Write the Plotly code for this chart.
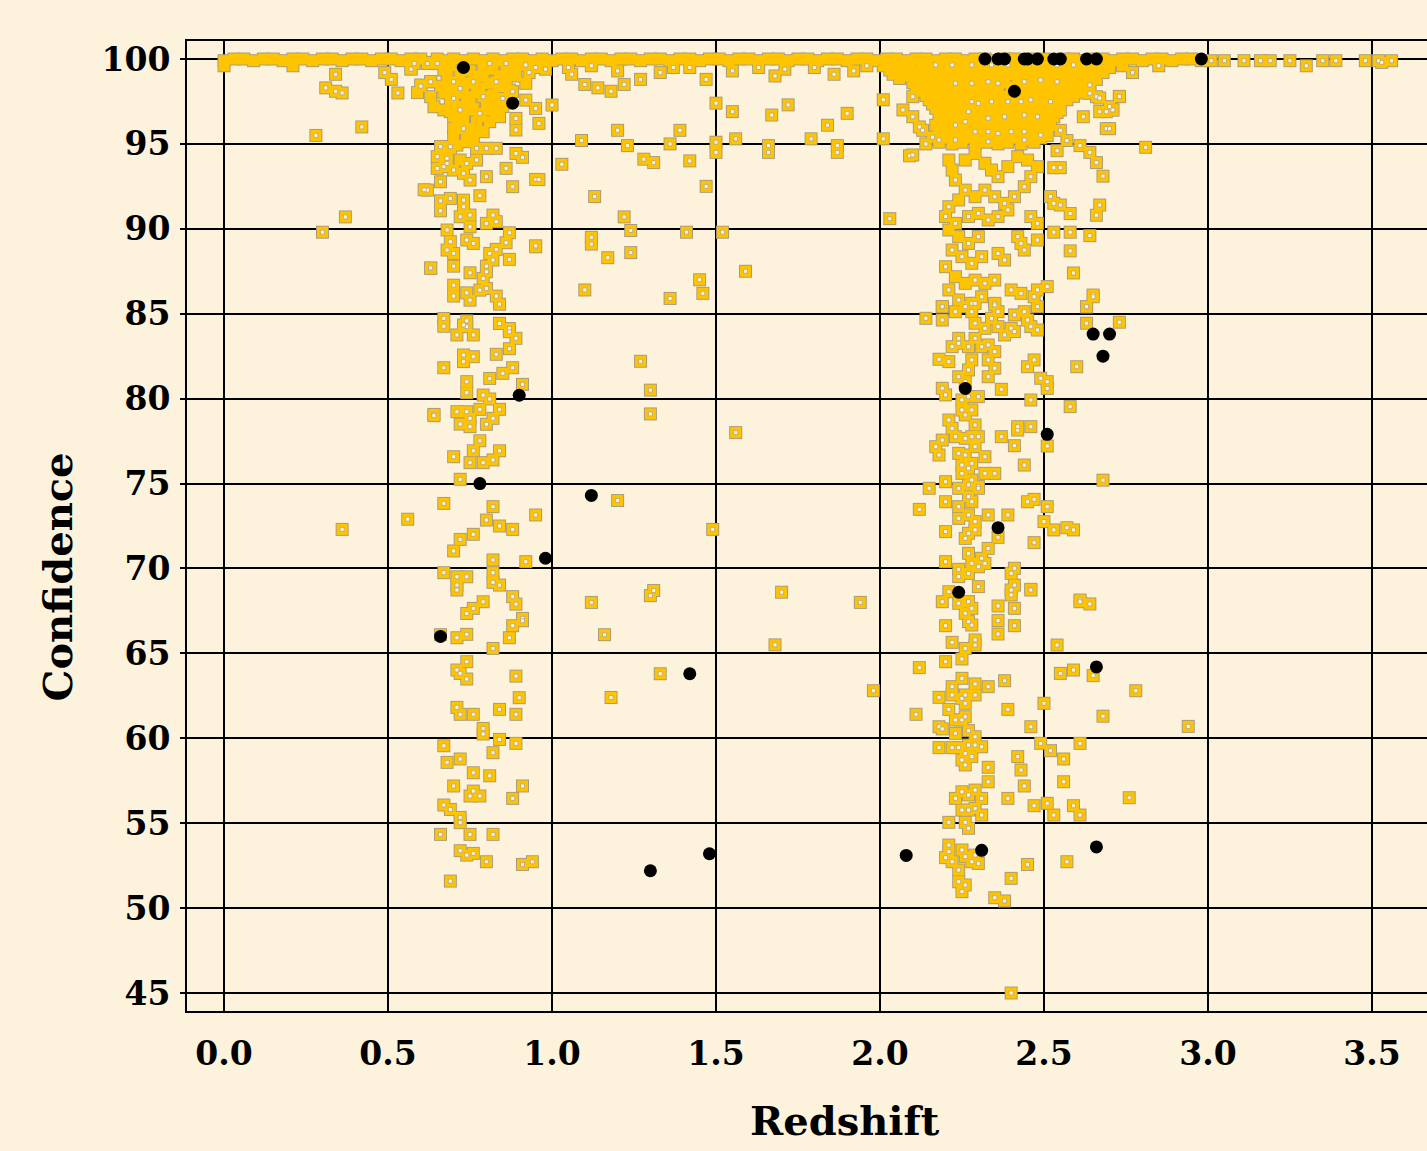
import plotly.graph_objects as go

# ---------------- data (redshift, confidence) ----------------
top_band = [
    (0.00, 99.9), (0.00, 99.6), (0.03, 100.0), (0.06, 100.0), (0.09, 99.9), (0.12, 100.0), (0.15, 100.0),
    (0.18, 99.9), (0.21, 100.0), (0.21, 99.6), (0.24, 100.0), (0.27, 99.9), (0.30, 100.0), (0.33, 100.0),
    (0.36, 99.9), (0.39, 100.0), (0.42, 100.0), (0.45, 99.9), (0.48, 100.0), (0.51, 100.0), (0.54, 99.9),
    (0.57, 100.0), (0.60, 100.0), (0.62, 99.8), (0.65, 100.0), (0.68, 99.9), (0.70, 100.0), (0.73, 99.9),
    (0.76, 100.0), (0.79, 99.9), (0.82, 100.0), (0.85, 99.9), (0.88, 100.0), (0.91, 100.0), (0.94, 99.9),
    (0.97, 100.0), (1.00, 99.9), (1.03, 100.0), (1.06, 100.0), (1.09, 99.9), (1.12, 100.0), (1.15, 100.0),
    (1.18, 99.9), (1.21, 100.0), (1.24, 100.0), (1.27, 99.9), (1.30, 100.0), (1.33, 100.0), (1.36, 99.9),
    (1.39, 100.0), (1.42, 100.0), (1.45, 99.9), (1.48, 100.0), (1.51, 100.0), (1.54, 99.9), (1.57, 100.0),
    (1.60, 100.0), (1.63, 99.9), (1.66, 100.0), (1.69, 100.0), (1.72, 99.9), (1.75, 100.0), (1.78, 100.0),
    (1.81, 99.9), (1.84, 100.0), (1.87, 100.0), (1.90, 99.9), (1.93, 100.0), (1.96, 100.0), (1.99, 99.9),
    (2.02, 100.0), (2.05, 100.0), (2.08, 99.9), (2.11, 100.0), (2.14, 100.0), (2.17, 99.9), (2.20, 100.0),
    (2.23, 100.0), (2.26, 99.9), (2.29, 100.0), (2.32, 100.0), (2.35, 99.9), (2.38, 100.0), (2.41, 100.0),
    (2.44, 99.9), (2.47, 100.0), (2.50, 100.0), (2.53, 99.9), (2.56, 100.0), (2.59, 100.0), (2.62, 99.9),
    (2.65, 100.0), (2.68, 100.0), (2.71, 99.9), (2.74, 100.0), (2.77, 100.0), (2.80, 99.9), (2.83, 100.0),
    (2.86, 100.0), (2.89, 99.9), (2.92, 100.0), (2.95, 100.0), (2.98, 99.9),
]

far_band = [
    (3.01, 99.9), (3.05, 99.9), (3.11, 99.9), (3.16, 99.9), (3.19, 99.9), (3.25, 99.9), (3.30, 99.6),
    (3.35, 99.9), (3.39, 99.9), (3.48, 99.9), (3.52, 99.9), (3.53, 99.8), (3.56, 99.9),
]

top_drips = [
    (0.34, 99.1), (0.31, 98.3), (0.34, 98.1), (0.36, 98.0), (0.42, 96.0), (0.28, 95.5), (0.49, 99.2),
    (0.51, 98.8), (0.53, 98.0), (0.57, 99.4), (0.60, 98.4), (0.30, 89.8), (0.37, 90.7), (0.36, 72.3),
    (0.56, 72.9), (1.06, 99.1), (1.10, 98.5), (1.14, 98.3), (1.18, 98.1), (1.22, 98.5), (1.27, 98.8),
    (1.05, 99.5), (1.12, 99.6), (1.20, 99.3), (1.33, 99.2), (1.37, 99.5), (1.42, 99.5), (1.47, 98.8),
    (1.55, 99.3), (1.63, 99.5), (1.68, 99.0), (1.71, 99.4), (1.80, 99.5), (1.86, 99.1), (1.92, 99.3),
    (1.96, 99.6),
]

left_blob = [
    (0.57, 99.45), (0.60, 98.47), (0.59, 98.02), (0.63, 98.66), (0.63, 97.78), (0.64, 97.19),
    (0.67, 99.35), (0.69, 98.57), (0.70, 97.98), (0.74, 97.78), (0.76, 98.57), (0.79, 98.96),
    (0.81, 98.57), (0.84, 98.37), (0.87, 98.17), (0.72, 97.19), (0.75, 96.99), (0.78, 96.60),
    (0.70, 96.60), (0.73, 96.40), (0.81, 96.31), (0.79, 95.72), (0.70, 95.91), (0.84, 96.60),
    (0.86, 99.35), (0.91, 99.65), (0.92, 98.57), (0.68, 99.0), (0.70, 98.2), (0.73, 98.6),
    (0.75, 97.4), (0.77, 98.0), (0.80, 97.5), (0.82, 97.9), (0.85, 97.2), (0.72, 96.0), (0.76, 95.9),
    (0.80, 97.0), (0.83, 96.9), (0.69, 97.5), (0.71, 96.5), (0.66, 98.4), (0.79, 99.5), (0.75, 99.3),
    (0.69, 99.6), (0.86, 98.8), (0.82, 99.4), (0.89, 99.0), (0.67, 97.0),
    (0.66, 94.83), (0.69, 94.74), (0.71, 94.93), (0.74, 95.13), (0.68, 94.35), (0.72, 94.05),
    (0.77, 99.0), (0.72, 99.1), (0.84, 99.0), (0.88, 99.5), (0.78, 98.3), (0.73, 98.0), (0.67, 98.0),
    (0.83, 97.5), (0.76, 97.1), (0.69, 96.9), (0.77, 96.3), (0.74, 95.7), (0.70, 95.4), (0.76, 95.3),
]

left_blob_holed = [
    (0.58, 99.74), (0.62, 99.74), (0.65, 99.74), (0.81, 99.74), (0.86, 99.74), (0.92, 99.65),
    (0.63, 98.66), (0.70, 98.66), (0.76, 98.66), (0.83, 98.66), (0.88, 98.08), (0.72, 98.27),
    (0.70, 97.68), (0.79, 97.78), (0.85, 97.68), (0.72, 97.00), (0.78, 96.80), (0.73, 95.90),
    (0.66, 94.84), (0.69, 94.84), (0.68, 94.15),
]

left_column = [
    (0.92, 97.58), (0.89, 96.50), (0.89, 95.82), (0.95, 97.09), (0.96, 96.21), (1.00, 97.29),
    (0.93, 99.2), (0.95, 99.5), (0.98, 99.4),
    (0.77, 94.74), (0.80, 94.74), (0.83, 94.74), (0.65, 94.25), (0.74, 93.85), (0.67, 93.66),
    (0.70, 93.46), (0.73, 93.27), (0.75, 92.87), (0.66, 92.77), (0.65, 93.56), (0.68, 93.85),
    (0.77, 94.05), (0.86, 93.56), (0.89, 94.44), (0.91, 94.21), (0.80, 93.07), (0.88, 92.48),
    (0.95, 92.91), (0.62, 92.28), (0.66, 91.65), (0.66, 91.06), (0.69, 91.79), (0.73, 91.69),
    (0.73, 91.30), (0.72, 90.71), (0.75, 90.81), (0.78, 91.95), (0.80, 90.32), (0.82, 90.81),
    (0.83, 90.42), (0.68, 89.93), (0.75, 90.12), (0.87, 89.77), (0.69, 89.24), (0.74, 89.34),
    (0.76, 89.14), (0.68, 88.75), (0.70, 88.55), (0.83, 88.79), (0.86, 89.18), (0.81, 88.55),
    (0.82, 88.16), (0.87, 88.20), (0.63, 87.67), (0.70, 87.80), (0.80, 87.80), (0.75, 87.41),
    (0.80, 87.47), (0.79, 87.08), (0.70, 86.68), (0.70, 86.04), (0.74, 86.23), (0.75, 85.80),
    (0.78, 86.39), (0.80, 86.49), (0.83, 86.04), (0.84, 85.56), (0.95, 88.94), (0.67, 84.72),
    (0.67, 84.26), (0.74, 84.58), (0.74, 84.24), (0.84, 84.43), (0.87, 84.13),
    (0.73, 84.34), (0.84, 84.43), (0.71, 83.75), (0.76, 83.75), (0.87, 83.94), (0.89, 83.55),
    (0.73, 82.57), (0.73, 82.18), (0.76, 82.47), (0.83, 82.61), (0.87, 82.94), (0.67, 81.82),
    (0.88, 81.82), (0.81, 81.19), (0.85, 81.49), (0.91, 80.84), (0.74, 81.00), (0.74, 80.35),
    (0.79, 80.21), (0.81, 79.98), (0.64, 79.07), (0.71, 79.23), (0.74, 79.23), (0.75, 78.84),
    (0.72, 78.50), (0.75, 78.35), (0.78, 79.37), (0.84, 79.37), (0.82, 78.84), (0.80, 78.49),
    (0.78, 77.52), (0.76, 76.93), (0.84, 76.93), (0.70, 76.58), (0.75, 76.23), (0.79, 76.23),
    (0.82, 76.39), (0.72, 75.25), (0.67, 73.83), (0.82, 73.64), (0.80, 72.85), (0.84, 72.50),
    (0.88, 72.30), (0.95, 73.15), (0.72, 71.71), (0.76, 72.01), (0.70, 71.03), (0.82, 70.50),
    (0.92, 70.40), (0.67, 69.75), (0.71, 69.51), (0.71, 69.02), (0.71, 68.73), (0.74, 69.51),
    (0.82, 69.75), (0.82, 69.18), (0.84, 69.02), (0.79, 68.04), (0.88, 68.34), (0.89, 67.90),
    (0.74, 67.35), (0.76, 67.65), (0.91, 67.06), (0.91, 66.92), (0.88, 66.63), (0.87, 65.92),
    (0.66, 66.10), (0.71, 65.92), (0.74, 66.12), (0.82, 65.29), (0.74, 64.51), (0.71, 64.02),
    (0.72, 63.82), (0.74, 63.49), (0.89, 63.66), (0.90, 62.39), (0.71, 61.82), (0.72, 61.41),
    (0.76, 61.41), (0.84, 61.70), (0.89, 61.41), (0.79, 60.58), (0.79, 60.25), (0.84, 59.93),
    (0.89, 59.70), (0.67, 59.56), (0.82, 59.15), (0.72, 58.78), (0.68, 58.58), (0.76, 57.97),
    (0.81, 57.79), (0.70, 57.19), (0.91, 57.19), (0.76, 56.89), (0.75, 56.60), (0.78, 56.60),
    (0.88, 56.46), (0.67, 56.07), (0.69, 55.81), (0.72, 55.34), (0.72, 55.03), (0.66, 54.34),
    (0.75, 54.34), (0.82, 54.34), (0.72, 53.38), (0.74, 53.12), (0.76, 53.22), (0.80, 52.73),
    (0.91, 52.57), (0.94, 52.73), (0.69, 51.59), (0.96, 92.9), (0.95, 89.0), (0.61, 92.3),
    (0.63, 87.7), (0.64, 79.0),
]

middle_scatter = [
    (1.03, 93.8), (1.09, 95.2), (1.13, 91.9), (1.12, 89.5), (1.12, 89.1), (1.10, 86.4), (1.17, 88.3),
    (1.22, 90.7), (1.24, 89.9), (1.24, 88.6), (1.20, 95.8), (1.23, 94.9), (1.28, 94.1), (1.31, 93.9),
    (1.36, 95.0), (1.39, 95.8), (1.42, 94.0), (1.47, 92.5), (1.41, 89.8), (1.45, 87.0), (1.46, 86.2),
    (1.36, 85.9), (1.50, 97.4), (1.52, 89.8), (1.50, 94.5), (1.50, 95.1), (1.56, 95.3), (1.59, 87.5),
    (1.55, 96.9), (1.67, 96.7), (1.72, 97.3), (1.66, 94.9), (1.66, 94.5), (1.79, 95.3), (1.84, 96.1),
    (1.87, 94.9), (1.87, 94.5), (1.90, 96.8), (2.01, 97.6), (2.01, 95.3), (2.03, 90.6), (2.09, 94.3),
    (1.27, 82.2), (1.30, 80.5), (1.30, 79.1), (1.56, 78.0), (1.20, 74.0), (1.49, 72.3), (1.30, 68.4),
    (1.31, 68.7), (1.12, 68.0), (1.16, 66.1), (1.70, 68.6), (1.68, 65.5), (1.94, 68.0), (1.33, 63.8),
    (1.18, 62.4), (1.98, 62.8),
]

right_dense = [
    (2.01, 99.6), (2.05, 99.5), (2.09, 99.6), (2.13, 99.5), (2.16, 99.6), (2.20, 99.5), (2.23, 99.6),
    (2.27, 99.5), (2.30, 99.6), (2.34, 99.5), (2.37, 99.6), (2.41, 99.5), (2.44, 99.6), (2.48, 99.5),
    (2.51, 99.6), (2.55, 99.5), (2.58, 99.6), (2.62, 99.5), (2.65, 99.6), (2.70, 99.5), (2.74, 99.6),
    (2.03, 99.35), (2.07, 99.3), (2.11, 99.35), (2.14, 99.3), (2.18, 99.35), (2.21, 99.3), (2.25, 99.35),
    (2.28, 99.3), (2.32, 99.35), (2.35, 99.3), (2.39, 99.35), (2.42, 99.3), (2.46, 99.35), (2.49, 99.3),
    (2.53, 99.35), (2.56, 99.3), (2.60, 99.35), (2.63, 99.3), (2.67, 99.35),
    (2.04, 99.1), (2.08, 99.0), (2.12, 99.1), (2.15, 99.0), (2.19, 99.1), (2.22, 99.0), (2.26, 99.1),
    (2.29, 99.0), (2.33, 99.1), (2.36, 99.0), (2.40, 99.1), (2.43, 99.0), (2.47, 99.1), (2.50, 99.0),
    (2.54, 99.1), (2.57, 99.0), (2.61, 99.1), (2.64, 99.0), (2.68, 99.2),
    (2.06, 98.85), (2.11, 98.8), (2.14, 98.85), (2.17, 98.8), (2.21, 98.85), (2.24, 98.8), (2.28, 98.85),
    (2.31, 98.8), (2.35, 98.85), (2.38, 98.8), (2.42, 98.85), (2.45, 98.8), (2.48, 98.85), (2.52, 98.8),
    (2.55, 98.85), (2.59, 98.8), (2.62, 98.85), (2.66, 98.8),
    (2.10, 98.6), (2.13, 98.5), (2.17, 98.6), (2.20, 98.5), (2.24, 98.6), (2.27, 98.5), (2.31, 98.6),
    (2.34, 98.5), (2.38, 98.6), (2.45, 98.6), (2.49, 98.5), (2.52, 98.6), (2.56, 98.5), (2.59, 98.6),
    (2.62, 98.5),
    (2.11, 98.35), (2.15, 98.3), (2.18, 98.35), (2.22, 98.3), (2.25, 98.35), (2.29, 98.3), (2.32, 98.35),
    (2.36, 98.3), (2.40, 98.35), (2.43, 98.3), (2.47, 98.35), (2.50, 98.3), (2.54, 98.35), (2.57, 98.3),
    (2.60, 98.35),
    (2.12, 98.1), (2.15, 98.0), (2.19, 98.1), (2.22, 98.0), (2.26, 98.1), (2.29, 98.0), (2.33, 98.1),
    (2.36, 98.0), (2.44, 98.1), (2.47, 98.0), (2.51, 98.1), (2.54, 98.0), (2.58, 98.1), (2.61, 98.0),
    (2.14, 97.85), (2.17, 97.8), (2.21, 97.85), (2.24, 97.8), (2.28, 97.85), (2.31, 97.8), (2.35, 97.85),
    (2.38, 97.8), (2.42, 97.85), (2.45, 97.8), (2.49, 97.85), (2.52, 97.8), (2.56, 97.85), (2.59, 97.8),
    (2.15, 97.6), (2.18, 97.5), (2.22, 97.6), (2.25, 97.5), (2.29, 97.6), (2.32, 97.5), (2.36, 97.6),
    (2.39, 97.5), (2.43, 97.6), (2.46, 97.5), (2.50, 97.6), (2.53, 97.5), (2.57, 97.6),
    (2.16, 97.35), (2.19, 97.3), (2.23, 97.35), (2.26, 97.3), (2.30, 97.35), (2.33, 97.3), (2.37, 97.35),
    (2.40, 97.3), (2.44, 97.35), (2.47, 97.3), (2.51, 97.35), (2.54, 97.3),
    (2.17, 97.1), (2.20, 97.0), (2.24, 97.1), (2.27, 97.0), (2.31, 97.1), (2.34, 97.0), (2.38, 97.1),
    (2.41, 97.0), (2.45, 97.1), (2.48, 97.0), (2.52, 97.1), (2.55, 97.0),
    (2.19, 96.85), (2.23, 96.8), (2.26, 96.85), (2.30, 96.8), (2.33, 96.85), (2.37, 96.8), (2.40, 96.85),
    (2.44, 96.8), (2.47, 96.85), (2.51, 96.8), (2.54, 96.85),
    (2.18, 96.6), (2.22, 96.5), (2.25, 96.6), (2.29, 96.5), (2.32, 96.6), (2.36, 96.5), (2.39, 96.6),
    (2.43, 96.5), (2.46, 96.6), (2.50, 96.5), (2.53, 96.6),
    (2.19, 96.35), (2.23, 96.3), (2.27, 96.35), (2.30, 96.3), (2.34, 96.35), (2.37, 96.3), (2.41, 96.35),
    (2.44, 96.3), (2.48, 96.35), (2.51, 96.3),
    (2.17, 96.1), (2.21, 96.0), (2.24, 96.1), (2.28, 96.0), (2.31, 96.1), (2.35, 96.0), (2.38, 96.1),
    (2.42, 96.0), (2.45, 96.1), (2.49, 96.0), (2.52, 96.1),
    (2.18, 95.85), (2.22, 95.8), (2.25, 95.85), (2.29, 95.8), (2.32, 95.85), (2.36, 95.8), (2.39, 95.85),
    (2.43, 95.8), (2.46, 95.85), (2.50, 95.8),
    (2.19, 95.6), (2.23, 95.5), (2.26, 95.6), (2.30, 95.5), (2.33, 95.6), (2.37, 95.5), (2.40, 95.6),
    (2.44, 95.5), (2.47, 95.6), (2.51, 95.5),
    (2.20, 95.35), (2.24, 95.3), (2.27, 95.35), (2.31, 95.3), (2.34, 95.35), (2.38, 95.3), (2.41, 95.35),
    (2.45, 95.3), (2.49, 95.35),
    (2.18, 95.1), (2.22, 95.0), (2.25, 95.1), (2.29, 95.0), (2.32, 95.1), (2.36, 95.0), (2.39, 95.1),
    (2.43, 95.0), (2.47, 95.1),
    (2.21, 94.05), (2.26, 94.05), (2.29, 94.44), (2.32, 93.86), (2.42, 94.25), (2.45, 94.05),
    (2.22, 93.46), (2.34, 93.46), (2.39, 93.66), (2.48, 93.66), (2.24, 91.70), (2.29, 91.89),
    (2.21, 89.93), (2.24, 89.54), (2.23, 87.18), (2.26, 86.79),
]

right_dense_holed = [
    (2.17, 99.65), (2.22, 99.65), (2.28, 99.65), (2.34, 99.65), (2.39, 99.65), (2.54, 99.65),
    (2.59, 99.65), (2.23, 98.57), (2.28, 98.57), (2.33, 98.66), (2.36, 98.57), (2.44, 98.66),
    (2.49, 98.76), (2.54, 98.66), (2.28, 97.49), (2.30, 97.39), (2.34, 97.49), (2.39, 97.49),
    (2.43, 97.49), (2.46, 97.59), (2.52, 97.49), (2.27, 96.90), (2.33, 96.51), (2.38, 96.60),
    (2.44, 96.70), (2.48, 96.60), (2.23, 96.11), (2.26, 96.31), (2.29, 95.72), (2.33, 95.72),
    (2.36, 95.62), (2.40, 95.72), (2.44, 95.72), (2.49, 95.52), (2.18, 95.23), (2.23, 95.23),
    (2.33, 95.13), (2.44, 95.23),
]

right_column = [
    (2.10, 97.78), (2.07, 97.0), (2.10, 96.6), (2.12, 96.0), (2.13, 95.8), (2.16, 95.4), (2.10, 94.35),
    (2.14, 95.0), (2.64, 98.47), (2.64, 97.98), (2.66, 97.78), (2.70, 97.2), (2.71, 97.0), (2.67, 96.9),
    (2.73, 97.78), (2.69, 95.9), (2.64, 94.5), (2.66, 93.9), (2.68, 93.1), (2.61, 94.9), (2.57, 95.2),
    (2.55, 95.8), (2.62, 96.6), (2.58, 90.9), (2.66, 90.8), (2.67, 91.4), (2.64, 89.6), (2.58, 88.7),
    (2.59, 87.4), (2.65, 86.1), (2.63, 85.4), (2.55, 91.4), (2.53, 91.5), (2.52, 91.9), (2.53, 93.6),
    (2.55, 93.6), (2.54, 94.6), (2.58, 89.8), (2.53, 89.8), (2.51, 86.6), (2.48, 86.4), (2.47, 86.0),
    (2.40, 86.4), (2.43, 86.2), (2.67, 97.7), (2.69, 96.9), (2.71, 97.0), (2.77, 99.2), (2.73, 97.8),
    (2.85, 99.6), (2.70, 95.9),
    (2.23, 92.87), (2.36, 93.07), (2.46, 93.07), (2.44, 92.48), (2.41, 91.89), (2.38, 91.50),
    (2.35, 91.89), (2.32, 92.28), (2.26, 92.28), (2.21, 91.30), (2.20, 90.72), (2.23, 90.32),
    (2.27, 90.72), (2.30, 90.91), (2.33, 90.52), (2.36, 90.72), (2.39, 91.11), (2.46, 90.72),
    (2.48, 90.32), (2.27, 89.14), (2.30, 89.54), (2.22, 88.75),
    (2.25, 88.36), (2.28, 87.97), (2.31, 88.36), (2.20, 87.77),
    (2.29, 86.98), (2.32, 86.79), (2.35, 86.98), (2.21, 86.40), (2.24, 85.81), (2.28, 85.61),
    (2.31, 86.00), (2.19, 85.41), (2.35, 85.61), (2.36, 88.55), (2.38, 88.16), (2.42, 89.54),
    (2.44, 88.75), (2.43, 89.14), (2.48, 89.34),
    (2.14, 84.73), (2.19, 84.63), (2.19, 85.42), (2.23, 85.12), (2.26, 85.42), (2.28, 85.12),
    (2.29, 85.61), (2.35, 85.52), (2.36, 85.12), (2.41, 84.93), (2.44, 85.12), (2.48, 85.42),
    (2.29, 84.44), (2.32, 84.14), (2.34, 84.73), (2.36, 84.24), (2.38, 83.75), (2.40, 84.14),
    (2.41, 83.95), (2.45, 84.63), (2.46, 84.24), (2.48, 84.04), (2.63, 85.42), (2.63, 84.44),
    (2.22, 83.06), (2.24, 83.55), (2.27, 83.06), (2.29, 83.55), (2.31, 83.06), (2.33, 83.16),
    (2.35, 82.77), (2.24, 83.26), (2.18, 82.32), (2.21, 82.18), (2.28, 82.28), (2.27, 81.69),
    (2.33, 82.28), (2.35, 81.79), (2.33, 81.29), (2.24, 81.29), (2.26, 81.00), (2.19, 80.61),
    (2.20, 80.22), (2.37, 80.55), (2.45, 81.88), (2.47, 82.28), (2.49, 81.20), (2.51, 81.00),
    (2.51, 80.60), (2.60, 81.88), (2.46, 79.92), (2.25, 79.92), (2.27, 80.12), (2.30, 80.12),
    (2.25, 79.33), (2.28, 79.33), (2.26, 79.04), (2.21, 78.74), (2.22, 78.25), (2.23, 77.76),
    (2.26, 77.66), (2.28, 77.76), (2.30, 77.76), (2.29, 78.45), (2.37, 77.76), (2.42, 78.15),
    (2.42, 78.35), (2.46, 78.35), (2.58, 79.53), (2.51, 77.21), (2.17, 77.17), (2.19, 77.56),
    (2.18, 76.68), (2.24, 76.78), (2.26, 76.68), (2.25, 76.09), (2.27, 75.90), (2.28, 76.19),
    (2.29, 77.17), (2.32, 76.58), (2.41, 77.23), (2.44, 76.09), (2.25, 75.60), (2.28, 75.21),
    (2.32, 75.60), (2.27, 74.92), (2.30, 74.82), (2.35, 75.60), (2.20, 75.11), (2.15, 74.72),
    (2.24, 74.72), (2.27, 74.23), (2.28, 73.93), (2.30, 74.72), (2.20, 73.93), (2.12, 73.48),
    (2.24, 73.64), (2.24, 72.95), (2.27, 73.15), (2.29, 72.76), (2.33, 73.15), (2.29, 72.27),
    (2.27, 72.07), (2.26, 71.77), (2.39, 73.15), (2.36, 71.83), (2.20, 72.17), (2.47, 74.07),
    (2.45, 73.93), (2.51, 73.64), (2.50, 72.76), (2.53, 72.27), (2.59, 72.27), (2.47, 71.52),
    (2.20, 70.40), (2.27, 70.89), (2.28, 70.30), (2.31, 70.60), (2.33, 71.18), (2.32, 70.30),
    (2.24, 69.95), (2.24, 69.52), (2.27, 69.71), (2.30, 70.10), (2.40, 69.71), (2.41, 70.01),
    (2.30, 68.93), (2.40, 68.44), (2.40, 68.73), (2.46, 68.77), (2.41, 69.02), (2.61, 68.14),
    (2.21, 68.63), (2.24, 67.95), (2.27, 68.05), (2.28, 67.65), (2.26, 67.36), (2.19, 68.04),
    (2.41, 67.65), (2.36, 67.79), (2.46, 68.73), (2.61, 68.04), (2.64, 67.91), (2.28, 66.67),
    (2.27, 66.87), (2.20, 66.63), (2.36, 66.93), (2.41, 66.63), (2.36, 66.14), (2.22, 65.65),
    (2.29, 65.79), (2.29, 65.49), (2.26, 65.29), (2.54, 65.49), (2.20, 64.51), (2.25, 64.67),
    (2.12, 64.16), (2.55, 63.82), (2.59, 64.02), (2.65, 63.69), (2.25, 63.53), (2.22, 63.04),
    (2.22, 62.55), (2.25, 62.35), (2.26, 62.55), (2.26, 62.06), (2.29, 63.20), (2.29, 62.55),
    (2.33, 63.04), (2.38, 63.39), (2.18, 62.41), (2.21, 61.70), (2.39, 61.70), (2.11, 61.41),
    (2.23, 61.08), (2.25, 61.08), (2.26, 61.27), (2.18, 60.68), (2.19, 60.55), (2.23, 60.29),
    (2.27, 60.45), (2.29, 60.09), (2.46, 60.68), (2.50, 62.06), (2.18, 59.45), (2.22, 59.45),
    (2.24, 59.45), (2.27, 59.60), (2.29, 59.60), (2.31, 59.50), (2.26, 59.11), (2.28, 58.92),
    (2.25, 58.72), (2.26, 58.43), (2.49, 59.70), (2.52, 59.27), (2.61, 59.70), (2.42, 58.92),
    (2.56, 58.78), (2.33, 58.29), (2.43, 58.13), (2.33, 57.44), (2.56, 57.44), (2.44, 57.19),
    (2.23, 56.46), (2.25, 56.85), (2.27, 56.66), (2.29, 56.95), (2.31, 56.46), (2.39, 56.46),
    (2.47, 56.03), (2.51, 56.17), (2.53, 55.48), (2.59, 56.03), (2.61, 55.48), (2.25, 55.77),
    (2.27, 55.77), (2.29, 55.87), (2.31, 55.48), (2.21, 55.05), (2.26, 55.05), (2.27, 54.70),
    (2.21, 53.71), (2.21, 53.32), (2.22, 52.73), (2.20, 52.97), (2.25, 53.42), (2.26, 53.03),
    (2.28, 52.73), (2.30, 52.63), (2.29, 53.12), (2.24, 52.24), (2.24, 51.55), (2.26, 51.36),
    (2.25, 50.97), (2.45, 52.57), (2.57, 52.73), (2.40, 51.75), (2.35, 50.61), (2.38, 50.42),
    (2.40, 45.0), (2.65, 86.0), (2.73, 84.5), (2.68, 75.2), (2.78, 62.8), (2.76, 56.5), (2.94, 60.7),
    (2.81, 94.8), (2.68, 61.3), (2.57, 72.4),
]

black_points = [
    (0.73, 99.5), (0.88, 97.4), (0.90, 80.2), (0.78, 75.0), (0.66, 66.0), (0.98, 70.6), (1.12, 74.3),
    (1.42, 63.8), (1.30, 52.2), (1.48, 53.2), (2.08, 53.1), (2.31, 53.4), (2.24, 68.6), (2.36, 72.4),
    (2.26, 80.6), (2.41, 98.1), (2.51, 77.9), (2.65, 83.8), (2.70, 83.8), (2.68, 82.5), (2.66, 64.2),
    (2.66, 53.6), (2.98, 100.0), (2.32, 100.0), (2.36, 100.0), (2.38, 100.0), (2.44, 100.0),
    (2.45, 100.0), (2.48, 100.0), (2.53, 100.0), (2.55, 100.0), (2.63, 100.0), (2.66, 100.0),
]

x_ticks = [0.0, 0.5, 1.0, 1.5, 2.0, 2.5, 3.0, 3.5]
y_ticks = [45, 50, 55, 60, 65, 70, 75, 80, 85, 90, 95, 100]

# ---------------- figure ----------------
yellow = (top_band + far_band + top_drips + left_blob + left_blob_holed + left_column
          + middle_scatter + right_dense + right_dense_holed + right_column)
holed = (far_band + top_drips + left_blob_holed + left_column + middle_scatter
         + right_dense_holed + right_column)
yz = [p[0] for p in yellow]
yc = [p[1] for p in yellow]
hz = [p[0] for p in holed]
hc = [p[1] for p in holed]
bz = [p[0] for p in black_points]
bc = [p[1] for p in black_points]

BG = "#fdf2dc"
FONT = "DejaVu Serif"

fig = go.Figure()
fig.add_trace(go.Scatter(x=yz, y=yc, mode="markers", hoverinfo="skip",
                         marker=dict(symbol="square", size=13, color="#aa9c7a", line=dict(width=0))))
fig.add_trace(go.Scatter(x=yz, y=yc, mode="markers",
                         marker=dict(symbol="square", size=11, color="#ffc400", line=dict(width=0))))
fig.add_trace(go.Scatter(x=hz, y=hc, mode="markers", hoverinfo="skip",
                         marker=dict(symbol="square", size=4, color=BG, line=dict(width=0.8, color="#b4a47c"))))
fig.add_trace(go.Scatter(x=bz, y=bc, mode="markers",
                         marker=dict(symbol="circle", size=13, color="black", line=dict(width=0))))

fig.add_shape(type="line", xref="x", yref="y", x0=-0.04, x1=3.7, y0=100, y1=100,
              line=dict(color="#b4b4b4", width=2), layer="below")

fig.update_layout(
    width=1427, height=1151,
    margin=dict(l=187, r=0, t=41, b=140),
    paper_bgcolor=BG, plot_bgcolor=BG,
    showlegend=False,
    font=dict(family=FONT, color="black"),
)
fig.update_xaxes(
    range=[-0.113, 3.668], tickvals=x_ticks, tickformat=".1f",
    showgrid=True, gridcolor="black", gridwidth=1.5, zeroline=False,
    showline=True, linecolor="black", linewidth=2, mirror=True,
    ticks="", ticklabelstandoff=12,
    tickfont=dict(family=FONT, size=33, weight="bold", color="black"),
)
fig.update_yaxes(
    range=[43.94, 101.06], tickvals=y_ticks,
    showgrid=True, gridcolor="black", gridwidth=1.5, zeroline=False,
    showline=True, linecolor="black", linewidth=2, mirror=False,
    ticks="outside", ticklen=5, tickwidth=1.5, tickcolor="black", ticklabelstandoff=3,
    tickfont=dict(family=FONT, size=33, weight="bold", color="black"),
)

fig.add_annotation(text="Redshift", xref="paper", yref="paper", x=0.531, y=-0.1124,
                   xanchor="center", yanchor="middle", showarrow=False,
                   font=dict(family=FONT, size=40, weight="bold", color="black"))
fig.add_annotation(text="Confidence", xref="paper", yref="paper", x=-0.1048, y=0.447,
                   xanchor="center", yanchor="middle", showarrow=False, textangle=-90,
                   font=dict(family=FONT, size=40, weight="bold", color="black"))

fig.write_html(
    "out.html",
    config={"displayModeBar": False},
    post_script="document.body.style.margin='0';document.body.style.background='" + BG + "';",
)
